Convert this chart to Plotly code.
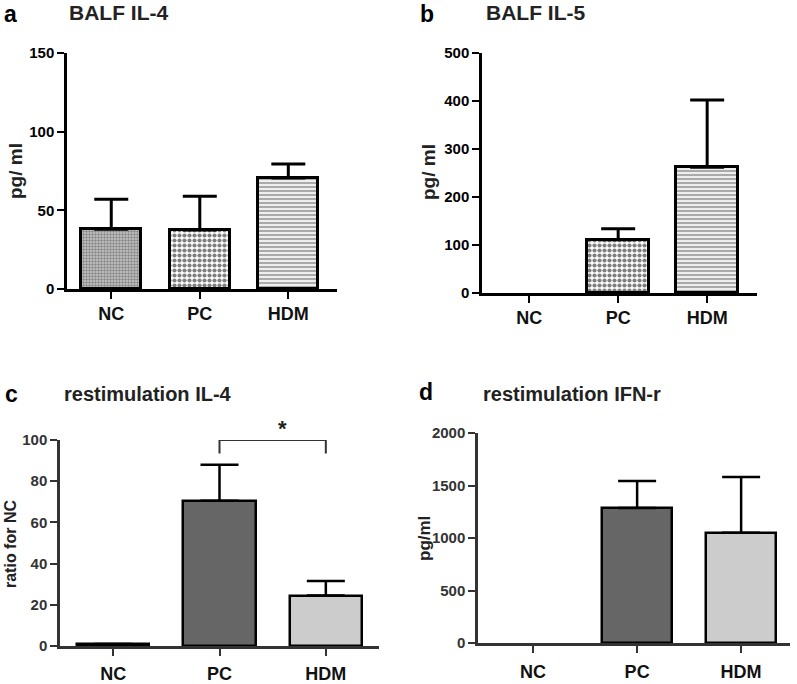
import plotly.graph_objects as go

W, H = 797, 684
categories = ["NC", "PC", "HDM"]

# Panel a: BALF IL-4
a_vals = [38, 37.5, 70.5]
a_err = [19, 21.5, 9]
# Panel b: BALF IL-5
b_vals = [None, 111, 262]
b_err = [0, 23, 140]
# Panel c: restimulation IL-4
c_vals = [1, 70.5, 24.5]
c_err = [0, 17.5, 7]
# Panel d: restimulation IFN-r
d_vals = [None, 1286, 1050]
d_err = [0, 257, 531]

a_ticks = [0, 50, 100, 150]
b_ticks = [0, 100, 200, 300, 400, 500]
c_ticks = [0, 20, 40, 60, 80, 100]
d_ticks = [0, 500, 1000, 1500, 2000]

FONT = "Arial, Liberation Sans, sans-serif"

def px_x(x0, x1):
    return [x0 / W, x1 / W]

def px_y(ytop, ybot):
    return [1 - ybot / H, 1 - ytop / H]

fig = go.Figure()

pat_a = [dict(shape=".", size=3, solidity=0.5, fgcolor="#444444", bgcolor="#c8c8c8"),
         dict(shape=".", size=5, solidity=0.55, fgcolor="black", bgcolor="white"),
         dict(shape="-", size=4, solidity=0.45, fgcolor="#555555", bgcolor="#eeeeee")]

panels = [
    dict(ax="", vals=a_vals, err=a_err, width=0.68, lw=3, xr=[-0.5, 2.55], yr=[0, 150],
         xd=px_x(67, 337), yd=px_y(53, 289), ticks=a_ticks, cap=17, pattern=True,
         tickcol="black", tfs=15, cfs=18, standoff=0),
    dict(ax="2", vals=b_vals, err=b_err, width=0.70, lw=3, xr=[-0.53, 2.56], yr=[0, 500],
         xd=px_x(482, 757), yd=px_y(53, 293), ticks=b_ticks, cap=17, pattern=True,
         tickcol="black", tfs=15, cfs=18, standoff=0),
    dict(ax="3", vals=c_vals, err=c_err, width=0.68, lw=2.5, xr=[-0.5, 2.5], yr=[0, 100],
         xd=px_x(60, 379), yd=px_y(440, 646), ticks=c_ticks, cap=19, pattern=False,
         tickcol="#333333", tfs=15, cfs=18, standoff=3),
    dict(ax="4", vals=d_vals, err=d_err, width=0.68, lw=2.5, xr=[-0.53, 2.47], yr=[0, 2000],
         xd=px_x(478, 790), yd=px_y(433, 643), ticks=d_ticks, cap=19, pattern=False,
         tickcol="#333333", tfs=15, cfs=18, standoff=4),
]

layout = dict(width=W, height=H, margin=dict(l=0, r=0, t=0, b=0, pad=0, autoexpand=False),
              paper_bgcolor="white", plot_bgcolor="white", showlegend=False,
              font=dict(family=FONT, color="black"), bargap=0)

for p in panels:
    ax = p["ax"]
    if p["pattern"]:
        for i, cat in enumerate(categories):
            v = p["vals"][i]
            fig.add_trace(go.Bar(
                x=[cat], y=[v], width=p["width"], xaxis="x" + ax, yaxis="y" + ax,
                marker=dict(color="white", pattern=pat_a[i],
                            line=dict(color="black", width=p["lw"])),
                error_y=dict(type="data", array=[p["err"][i]], arrayminus=[0], symmetric=False,
                             color="black", thickness=3, width=p["cap"]),
            ))
    else:
        fig.add_trace(go.Bar(
            x=categories, y=p["vals"], width=p["width"], xaxis="x" + ax, yaxis="y" + ax,
            marker=dict(color=["#222222", "#666666", "#cccccc"],
                        line=dict(color="black", width=p["lw"])),
            error_y=dict(type="data", array=p["err"], arrayminus=[0, 0, 0], symmetric=False,
                         color="black", thickness=2.5, width=p["cap"]),
        ))
    lc = p["tickcol"]
    layout["xaxis" + ax] = dict(
        domain=p["xd"], range=p["xr"], anchor="y" + ax, type="category",
        categoryorder="array", categoryarray=categories, automargin=False,
        showline=True, linecolor=lc, linewidth=2.5,
        ticks="outside", ticklen=7, tickwidth=2, tickcolor=lc,
        tickfont=dict(family=FONT, size=p["cfs"], color="#111111", weight="bold"),
        ticklabelstandoff=p["standoff"], showgrid=False, zeroline=False, fixedrange=True,
    )
    layout["yaxis" + ax] = dict(
        domain=p["yd"], range=p["yr"], anchor="x" + ax, automargin=False,
        tickvals=p["ticks"], ticktext=[str(t) for t in p["ticks"]],
        showline=True, linecolor=lc, linewidth=2.5,
        ticks="outside", ticklen=7, tickwidth=2, tickcolor=lc,
        tickfont=dict(family=FONT, size=p["tfs"], color=lc, weight="bold"),
        showgrid=False, zeroline=False, fixedrange=True,
    )

fig.update_layout(**layout)

# significance bracket in panel c
fig.add_shape(type="path", xref="x3", yref="y3",
              path="M 1,93.5 L 1,100 L 2,100 L 2,93.5",
              line=dict(color="#333333", width=2))

annotations = [
    dict(x=2, y=14, text="a", size=23),
    dict(x=67, y=13, text="BALF IL-4", size=21),
    dict(x=418, y=14, text="b", size=23),
    dict(x=484, y=13, text="BALF IL-5", size=21),
    dict(x=3, y=394, text="c", size=23),
    dict(x=62, y=394, text="restimulation IL-4", size=20),
    dict(x=417, y=392, text="d", size=23),
    dict(x=481, y=394, text="restimulation IFN-r", size=20),
]
for a in annotations:
    fig.add_annotation(x=a["x"] / W, y=1 - a["y"] / H, xref="paper", yref="paper",
                       xanchor="left", yanchor="middle", showarrow=False, text=a["text"],
                       font=dict(family=FONT, size=a["size"],
                                 color="black" if a["text"] in "abcd" else "#222222",
                                 weight="bold"))

ytitles = [
    dict(x=15, y=171, text="pg/ ml", size=19),
    dict(x=428, y=172, text="pg/ ml", size=19),
    dict(x=10, y=544, text="ratio for NC", size=16),
    dict(x=424, y=538, text="pg/ml", size=17),
]
for a in ytitles:
    fig.add_annotation(x=a["x"] / W, y=1 - a["y"] / H, xref="paper", yref="paper",
                       xanchor="center", yanchor="middle", showarrow=False, text=a["text"],
                       textangle=-90,
                       font=dict(family=FONT, size=a["size"], color="#222222", weight="bold"))

fig.add_annotation(x=282 / W, y=1 - 429 / H, xref="paper", yref="paper", showarrow=False,
                   xanchor="center", yanchor="middle",
                   text="*", font=dict(family=FONT, size=22, color="#222222", weight="bold"))

fig.write_html("out.html", config={"displayModeBar": False},
               post_script="document.body.style.margin='0';document.body.style.overflow='hidden';")
